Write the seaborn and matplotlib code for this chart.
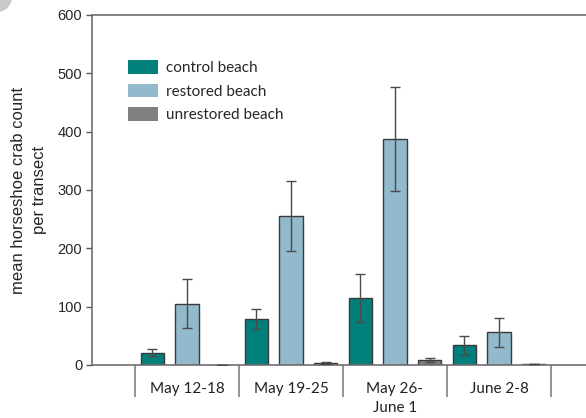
import numpy as np
import pandas as pd
import matplotlib
matplotlib.use("Agg")
import matplotlib.pyplot as plt
from matplotlib.patches import Circle
import seaborn as sns

weeks = ["May 12-18", "May 19-25", "May 26-\nJune 1", "June 2-8"]
beaches = ["control beach", "restored beach", "unrestored beach"]

control_mean = [21, 79, 115, 34]
control_err = [6, 17, 41, 16]
restored_mean = [105, 256, 388, 56]
restored_err = [42, 60, 89, 25]
unrestored_mean = [0.8, 4, 8.5, 1]
unrestored_err = [0, 1.5, 3, 0]

colors = ["#007f7b", "#93b9cc", "#808080"]

df = pd.DataFrame({
    "week": weeks * 3,
    "beach": np.repeat(beaches, len(weeks)),
    "count": control_mean + restored_mean + unrestored_mean,
})
errs = [control_err, restored_err, unrestored_err]

sns.set_style("white")
plt.rcParams["font.family"] = ["Liberation Sans", "DejaVu Sans"]

fig = plt.figure(figsize=(5.86, 4.18), dpi=100)
ax = fig.add_axes([92 / 586, 53 / 418, 494 / 586, 350 / 418])

sns.barplot(data=df, x="week", y="count", hue="beach", hue_order=beaches,
            order=weeks, palette=colors, width=1.0, gap=0.33,
            edgecolor="#3a3a3a", linewidth=1.0, errorbar=None, ax=ax,
            saturation=1)

for cont, e in zip(ax.containers, errs):
    xs = [p.get_x() + p.get_width() / 2 for p in cont.patches]
    hs = [p.get_height() for p in cont.patches]
    ax.errorbar(xs, hs, yerr=e, fmt="none", ecolor="#4a4a4a",
                elinewidth=1.0, capsize=3.6, capthick=1.0, zorder=5)

ax.set_ylim(0, 600)
ax.set_xlim(-0.913, 3.837)
ax.set_yticks(range(0, 601, 100))
ax.tick_params(axis="y", direction="out", length=4, width=1, color="#555555",
               labelsize=10.5, pad=3, left=True)
ax.set_ylabel("mean horseshoe crab count\nper transect", fontsize=12,
              labelpad=8, linespacing=1.45)
ax.set_xlabel("")

ax.set_xticks(range(len(weeks)))
ax.set_xticklabels(weeks, fontfamily="Lato", fontsize=11, linespacing=1.5)
ax.tick_params(axis="x", which="major", length=0, pad=12, labelcolor="#222222")
ax.set_xticks(np.arange(-0.5, len(weeks), 1.0), minor=True)
ax.tick_params(axis="x", which="minor", direction="out", length=23,
               width=1.3, color="#8a8a8a", bottom=True)

for side in ["left", "bottom", "top"]:
    ax.spines[side].set_visible(True)
    ax.spines[side].set_color("#6e6e6e")
    ax.spines[side].set_linewidth(1.2)
ax.spines["right"].set_visible(False)

leg = ax.legend(loc="upper left", bbox_to_anchor=(0.06, 0.888), frameon=False,
                prop={"family": "Lato", "size": 11}, handlelength=2.0,
                handleheight=1.0, handletextpad=0.5, labelspacing=0.55,
                borderaxespad=0)
for h in leg.legend_handles:
    h.set_edgecolor("none")

fig.patches.append(Circle((-3, 421), 15, transform=None, facecolor="#c9c9c9",
                          edgecolor="none", figure=fig))

fig.savefig("out.png", dpi=100)
